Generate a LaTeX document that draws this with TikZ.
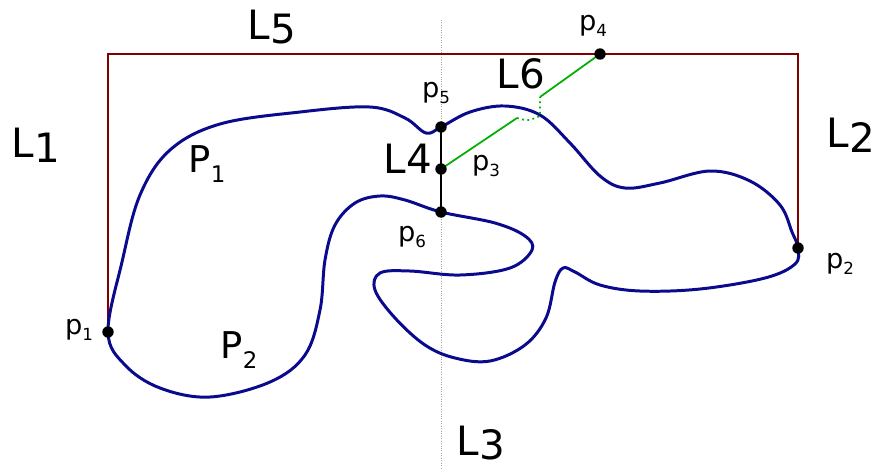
\documentclass[tikz,border=0pt]{standalone}
\usepackage{fontspec}
\setmainfont{DejaVu Sans}
\usetikzlibrary{positioning, calc}

\definecolor{wallred}{RGB}{128,0,0}
\definecolor{curveblue}{RGB}{10,10,140}
\definecolor{pathgreen}{RGB}{0,175,0}

\newcommand{\biglab}[2]{#1\raisebox{-0.12em}{#2}}
\newcommand{\reglab}[2]{#1\raisebox{-0.25em}{\fontsize{13}{13}\selectfont #2}}
\newcommand{\ptlab}[2]{#1\raisebox{-0.22em}{\fontsize{9.5}{9.5}\selectfont #2}}

\begin{document}
\begin{tikzpicture}[
  x=0.02cm, y=-0.02cm,
  dot/.style={circle, fill=black, inner sep=0pt, minimum size=6.5pt},
  wall/.style={draw=wallred, line width=1.2pt},
  curve/.style={draw=curveblue, line width=1.7pt},
  green path/.style={draw=pathgreen, line width=1pt},
  bigname/.style={inner sep=0pt, font=\fontsize{23}{23}\selectfont},
  regname/.style={inner sep=0pt, font=\fontsize{21}{21}\selectfont},
  ptname/.style={inner sep=0pt, font=\fontsize{15.5}{15.5}\selectfont},
]
  \useasboundingbox (0,0) rectangle (878,471);

  % Points
  \coordinate (p1) at (108,332);
  \coordinate (p2) at (798,248);
  \coordinate (p3) at (441,169);
  \coordinate (p4) at (600,54);
  \coordinate (p5) at (441,127);
  \coordinate (p6) at (441,212);

  % Vertical split line
  \coordinate (top) at (441,20);
  \coordinate (bot) at (441,468);
  \draw[gray!70, line width=0.4pt, densely dotted] (top) -- (bot);

  % Outer walls
  \draw[wall] (p1) |- (p4) -| (p2);

  % The region
  \draw[curve] plot[smooth cycle, tension=0.6] coordinates {
    (108,332) (122,262) (140,195) (170,150) (220,124) (300,112) (370,107)
    (405,118) (426,133) (441,127) (470,112) (505,106) (540,115) (570,143)
    (600,176) (625,188) (660,183) (710,171) (750,181) (780,205) (792,232)
    (798,248) (795,264) (765,278) (700,289) (640,291) (600,285) (575,272)
    (563,268) (555,282) (546,318) (525,345) (490,361) (455,358) (425,345)
    (395,318) (375,290) (380,273) (410,271) (460,275) (510,268) (532,250)
    (525,236) (495,223) (441,212) (405,200) (380,196) (355,203) (335,225)
    (325,260) (320,310) (305,355) (270,382) (210,397) (160,388) (125,365)};

  % L4 segment
  \draw[line width=1.3pt] (p5) -- (p6);

  % L6 path
  \coordinate (g1) at (517,118);
  \coordinate (g2) at (540,116);
  \coordinate (g3) at (540,97);
  \draw[green path] (p3) -- (g1);
  \draw[green path, dotted] (g1) .. controls (528,121) .. (g2) -- (g3);
  \draw[green path] (g3) -- (p4);

  % Dots
  \foreach \k in {1,...,6} {
    \node[dot] (d\k) at (p\k) {};
  }

  % Labels
  \node[bigname] (L1) at (36,145) {\biglab{L}{1}};
  \node[bigname] (L2) at (851,135) {\biglab{L}{2}};
  \node[bigname] (L3) at (481,443) {\biglab{L}{3}};
  \node[bigname] (L4) at (408,159) {L4};
  \node[bigname] (L5) at (272,27) {\biglab{L}{5}};
  \node[bigname] (L6) at (521,74) {L6};
  \node[regname] (P1) at (207,164) {\reglab{P}{1}};
  \node[regname] (P2) at (239,350) {\reglab{P}{2}};
  \node[ptname] (n1) at (79,330) {\ptlab{p}{1}};
  \node[ptname] (n2) at (840,264) {\ptlab{p}{2}};
  \node[ptname] (n3) at (486,166) {\ptlab{p}{3}};
  \node[ptname] (n4) at (593,26) {\ptlab{p}{4}};
  \node[ptname] (n5) at (436,93) {\ptlab{p}{5}};
  \node[ptname] (n6) at (412,237) {\ptlab{p}{6}};
\end{tikzpicture}
\end{document}
